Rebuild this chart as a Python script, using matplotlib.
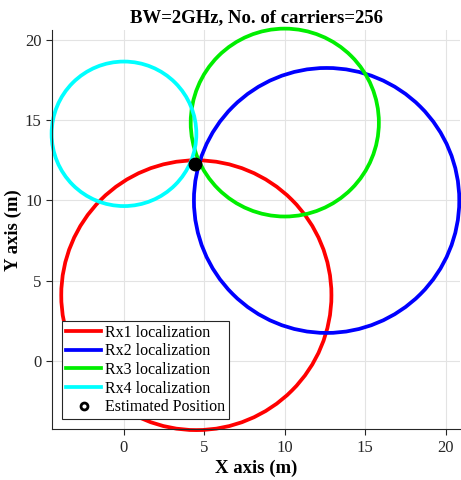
import matplotlib.pyplot as plt
from matplotlib.patches import Circle
from matplotlib.lines import Line2D

plt.rcParams['font.family'] = ['Liberation Serif', 'DejaVu Serif']

# receiver circles (centre x, centre y, radius) in metres
labels = ['Rx1 localization', 'Rx2 localization', 'Rx3 localization', 'Rx4 localization']
colors = ['#ff0000', '#0000ff', '#00ee00', '#00ffff']
cx = [4.5, 12.6, 10.0, 0.0]
cy = [4.1, 10.0, 14.85, 14.15]
radius = [8.4, 8.25, 5.85, 4.5]

# estimated position
est_x = [4.4]
est_y = [12.27]

fig = plt.figure(figsize=(4.61, 4.80), dpi=100)
ax = fig.add_axes([0.113, 0.106, 0.885, 0.831])

handles = []
for x, y, r, c, lab in zip(cx, cy, radius, colors, labels):
    ax.add_patch(Circle((x, y), r, fill=False, edgecolor=c, linewidth=2.7, clip_on=False))
    handles.append(Line2D([], [], color=c, linewidth=2.7, label=lab))

ax.plot(est_x, est_y, 'o', color='k', markersize=9, zorder=5, clip_on=False)
handles.append(Line2D([], [], marker='o', linestyle='none', color='k', markerfacecolor='white',
                      markeredgewidth=2, markersize=5, label='Estimated Position'))

ax.set_xlim(-4.47, 20.9)
ax.set_ylim(-4.24, 20.6)
ax.set_xticks([0, 5, 10, 15, 20])
ax.set_yticks([0, 5, 10, 15, 20])
ax.tick_params(labelsize=12, length=4, width=0.8, colors='#262626')
ax.grid(True, color='#e3e3e3', linewidth=0.8)
ax.set_axisbelow(True)
ax.spines['top'].set_visible(False)
ax.spines['right'].set_visible(False)
ax.spines['left'].set_color('#262626')
ax.spines['bottom'].set_color('#262626')

ax.set_title('BW=2GHz, No. of carriers=256', fontsize=13.5, fontweight='bold', pad=6)
ax.set_xlabel('X axis (m)', fontsize=13.5, fontweight='bold', labelpad=3)
ax.set_ylabel('Y axis (m)', fontsize=13.5, fontweight='bold', labelpad=2)

leg = ax.legend(handles=handles, loc='lower left', bbox_to_anchor=(0.025, 0.025),
                fontsize=11.5, handlelength=2.2, handletextpad=0.2, borderpad=0.25,
                labelspacing=0.16, fancybox=False, framealpha=1, borderaxespad=0)
leg.get_frame().set_edgecolor('#262626')
leg.get_frame().set_linewidth(0.8)

fig.savefig('out.png', dpi=100)
